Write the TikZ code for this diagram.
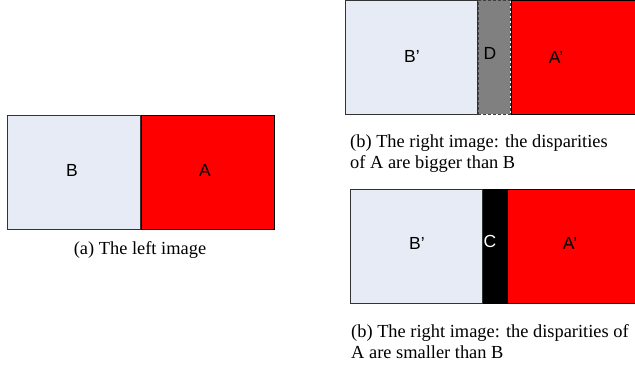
\documentclass[tikz,border=0pt]{standalone}
\usepackage{fontspec}
\setmainfont{Liberation Serif}
\setsansfont{Liberation Sans}
\usepackage{xcolor}
\usepackage{tikz}
\usetikzlibrary{positioning}

\definecolor{paleBlue}{RGB}{230,235,246}
\definecolor{occGray}{RGB}{128,128,128}

\begin{document}
\begin{tikzpicture}[
    x=1pt, y=1pt,
    region/.style={
        rectangle, draw=black!80, line width=0.8pt, inner sep=0pt,
        minimum height=114pt
    },
    bgRegion/.style={region, fill=paleBlue, minimum width=133pt},
    fgRegion/.style={region, fill=red, draw=black, minimum width=133pt},
    tag/.style={font=\sffamily\fontsize{17.5}{20}\selectfont, inner sep=0pt},
    caption/.style={
        font=\fontsize{18.4}{21}\selectfont, inner sep=0pt, align=left
    }
]

% canvas
\clip (0,0) rectangle (635,370);
\fill[white] (0,0) rectangle (635,370);

% (a) left image
\node[bgRegion, anchor=north west] (leftB) at (7,255) {};
\node[fgRegion, anchor=north west] (leftA) at (leftB.north east) {};
\node[tag] (tagB) at (72,200) {B};
\node[tag] (tagA) at (205,200) {A};
\node[caption, anchor=base] (capA) at (140,115) {(a) The left image};

% (b) right image, A moves more than B
\node[bgRegion, anchor=north west, minimum width=132pt] (topB) at (345,370) {};
\node[region, fill=occGray, draw=black!75, dashed, dash pattern=on 3pt off 2pt, minimum width=32pt, anchor=north west] (topD) at (topB.north east) {};
\node[fgRegion, anchor=north west, minimum width=140pt] (topA) at (topD.north east) {};
\node[tag] (tagTopB) at (412,314) {B’};
\node[tag] (tagD) at (490,317) {D};
\node[tag] (tagTopA) at (556,313) {A’};
\node[caption, anchor=north west] (capB) at (350,235) {(b) The right image: the disparities\\of A are bigger than B};

% (b) right image, A moves less than B
\node[bgRegion, anchor=north west, minimum width=132pt] (botB) at (350,181) {};
\node[region, fill=black, draw=black, minimum width=23pt, anchor=north west] (botC) at (botB.north east) {};
\node[fgRegion, anchor=north west, minimum width=140pt] (botA) at (botC.north east) {};
\node[tag] (tagBotB) at (417,127) {B’};
\node[tag, text=white] (tagC) at (490,129) {C};
\node[tag] (tagBotA) at (570,127) {A’};
\node[caption, anchor=north west] (capC) at (351,46) {(b) The right image: the disparities of\\A are smaller than B};

\end{tikzpicture}
\end{document}
